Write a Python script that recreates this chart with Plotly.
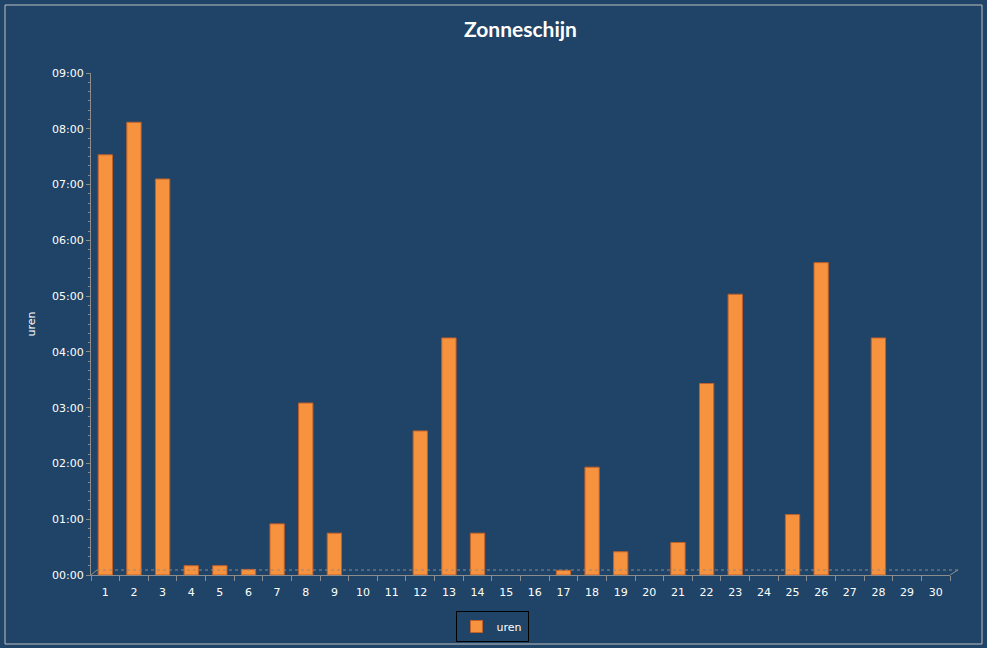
import plotly.graph_objects as go

days = list(range(1, 31))
uren_hhmm = ["7:32", "8:07", "7:06", "0:10", "0:10", "0:06", "0:55", "3:05", "0:45", "0:00",
             "0:00", "2:35", "4:15", "0:45", "0:00", "0:00", "0:05", "1:56", "0:25", "0:00",
             "0:35", "3:26", "5:02", "0:00", "1:05", "5:36", "0:00", "4:15", "0:00", "0:00"]
y_ticks = list(range(0, 10))
y_tick_labels = [f"{h:02d}:00" for h in y_ticks]

def to_hours(s):
    h, m = s.split(":")
    return int(h) + int(m) / 60

uren = [to_hours(s) for s in uren_hhmm]

BG = "#1F4467"
FONT = "DejaVu Sans"
W, H = 987, 648
L, R, T, B = 91, 37, 73, 73
pw, ph = W - L - R, H - T - B

def px(p):
    return (p - L) / pw

def py(q):
    return (H - B - q) / ph

fig = go.Figure()
fig.add_trace(go.Bar(
    x=days, y=uren, name="uren", width=0.5,
    marker=dict(color="#F7923E",
                line=dict(color="#C0602A", width=[1 if v > 0 else 0 for v in uren])),
    customdata=uren_hhmm,
    hovertemplate="%{x}: %{customdata}<extra></extra>",
))

fig.update_layout(
    width=W, height=H,
    margin=dict(l=L, r=R, t=T, b=B, autoexpand=False),
    paper_bgcolor=BG, plot_bgcolor=BG,
    font=dict(family=FONT, color="white", size=11),
    title=dict(text="<b>Zonneschijn</b>", x=0.5, xref="paper", y=1 - 30 / H, yanchor="middle",
               font=dict(family="Lato", size=21, color="white")),
    showlegend=True,
    legend=dict(orientation="h", x=px(492), xanchor="center", y=py(611), yanchor="top",
                bordercolor="black", borderwidth=1, bgcolor="rgba(0,0,0,0)",
                itemwidth=30, font=dict(size=11, color="white")),
    xaxis=dict(
        range=[0.5, 30.5], tickmode="array", tickvals=days, ticktext=[str(d) for d in days],
        showgrid=False, zeroline=False, showline=True, linecolor="#8C8C8C", linewidth=1,
        ticks="", tickfont=dict(size=11, color="white"), ticklabelstandoff=7,
        minor=dict(tickmode="array", tickvals=[d + 0.5 for d in range(0, 31)],
                   ticks="outside", ticklen=5, tickcolor="#8C8C8C", showgrid=False),
        fixedrange=True,
    ),
    yaxis=dict(
        range=[0, 9], tickmode="array", tickvals=y_ticks, ticktext=y_tick_labels,
        showgrid=False, zeroline=False, showline=True, linecolor="#8C8C8C", linewidth=1,
        ticks="outside", ticklen=4, tickcolor="#8C8C8C",
        minor=dict(dtick=1 / 6, ticks="outside", ticklen=2, tickcolor="#8C8C8C", showgrid=False),
        tickfont=dict(size=11, color="white"),
        title=dict(text="uren", font=dict(size=11, color="white"), standoff=14),
        fixedrange=True,
    ),
)

shapes = []
# outer frame
shapes.append(dict(type="rect", xref="paper", yref="paper",
                   x0=px(5), x1=px(982), y0=py(644), y1=py(5),
                   line=dict(color="#BFBFBF", width=1)))
# 3D floor back line and edges
shapes.append(dict(type="line", xref="paper", yref="paper",
                   x0=px(97), x1=px(958), y0=py(570), y1=py(570),
                   line=dict(color="#8C8C8C", width=1, dash="dot")))
shapes.append(dict(type="line", xref="paper", yref="paper",
                   x0=px(91), x1=px(97), y0=py(575), y1=py(570),
                   line=dict(color="#8C8C8C", width=1)))
shapes.append(dict(type="line", xref="paper", yref="paper",
                   x0=px(950), x1=px(958), y0=py(575), y1=py(570),
                   line=dict(color="#8C8C8C", width=1)))
fig.update_layout(shapes=shapes)

fig.write_html("out.html", config={"displayModeBar": False},
               post_script="document.body.style.margin='0px';document.body.style.overflow='hidden';")
